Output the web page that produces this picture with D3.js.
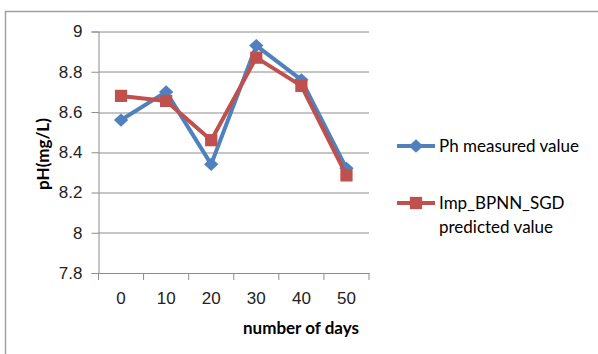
<!DOCTYPE html>
<html>
<head>
<meta charset="utf-8">
<script src="https://cdn.jsdelivr.net/npm/d3@7"></script>
<style>
  body { margin: 0; background: #fff; }
  svg { display: block; font-family: Lato, "Liberation Sans", sans-serif; }
</style>
</head>
<body>
<svg class="chart" width="598" height="354"></svg>
<script>
// values
const days = ["0", "10", "20", "30", "40", "50"]
const measured = [8.56, 8.70, 8.34, 8.93, 8.76, 8.32]
const predicted = [8.68, 8.655, 8.46, 8.87, 8.73, 8.285]
const yTicks = [7.8, 8, 8.2, 8.4, 8.6, 8.8, 9]
const seriesNames = ["Ph measured value", ["Imp_BPNN_SGD", "predicted value"]]

const margin = {top: 31.5, right: 229, bottom: 81, left: 98.5}
const width = 598 - margin.left - margin.right
const height = 354 - margin.top - margin.bottom

const blue = "#4f81bd"
const red = "#c0504d"
const grid = "#8c8c8c"
const fs = 17

let svg = d3.select('.chart')

// outer chart border (cut off right and bottom, like the screenshot)
svg.append("path")
    .attr("d", "M5.5,354 V11.5 H598")
    .attr("fill", "none")
    .attr("stroke", "#a0a0a0")
    .attr("stroke-width", 1.5)

let chart = svg.append("g")
    .attr("transform", `translate(${margin.left},${margin.top})`)

let x = d3.scaleBand()
    .domain(days)
    .range([0, width])

let y = d3.scaleLinear()
    .domain([7.8, 9])
    .range([height, 0])

// horizontal gridlines
chart.selectAll(".grid")
    .data(yTicks.slice(1))
    .enter().append("line")
    .attr("class", "grid")
    .attr("x1", 0)
    .attr("x2", width)
    .attr("y1", d => Math.round(y(d)) + 0.5)
    .attr("y2", d => Math.round(y(d)) + 0.5)
    .attr("stroke", grid)
    .attr("stroke-width", 1)

let yAxis = chart.append("g")
    .attr("class", "y axis")
    .call(d3.axisLeft(y).tickValues(yTicks).tickFormat(d3.format("")).tickSize(7).tickPadding(9))
yAxis.select(".domain").attr("stroke", grid)
yAxis.selectAll(".tick line").attr("stroke", grid)
yAxis.selectAll("text").attr("font-size", fs).attr("fill", "#222")

let xAxis = chart.append("g")
    .attr("class", "x axis")
    .attr("transform", `translate(0,${height})`)
    .call(d3.axisBottom(x).tickSize(0).tickPadding(19))
xAxis.select(".domain").attr("stroke", grid)
xAxis.selectAll("text").attr("font-size", fs).attr("fill", "#222")
// tick marks between categories
xAxis.selectAll(".sep")
    .data(d3.range(days.length + 1))
    .enter().append("line")
    .attr("class", "sep")
    .attr("x1", i => i * x.step())
    .attr("x2", i => i * x.step())
    .attr("y1", 0)
    .attr("y2", 7)
    .attr("stroke", grid)

// axis titles
svg.append("text")
    .attr("transform", "translate(49,154) rotate(-90)")
    .attr("text-anchor", "middle")
    .attr("font-size", fs)
    .attr("font-weight", "bold")
    .text("pH(mg/L)")

svg.append("text")
    .attr("x", 301)
    .attr("y", 334)
    .attr("text-anchor", "middle")
    .attr("font-size", fs)
    .attr("font-weight", "bold")
    .text("number of days")

let line = d3.line()
    .x((d, i) => x(days[i]) + x.bandwidth() / 2)
    .y(d => y(d))

// excel style markers: diamond is a rotated square
let diamond = d3.symbol().type(d3.symbolSquare).size(88)
let square = d3.symbol().type(d3.symbolSquare).size(150)
const diamondTf = "rotate(45)"

chart.append("path")
    .datum(measured)
    .attr("d", line)
    .attr("fill", "none")
    .attr("stroke", blue)
    .attr("stroke-width", 4)
    .attr("stroke-linejoin", "round")

chart.selectAll(".pt-m")
    .data(measured)
    .enter().append("path")
    .attr("class", "pt-m")
    .attr("d", diamond)
    .attr("transform", (d, i) => `translate(${x(days[i]) + x.bandwidth() / 2},${y(d)}) scale(1.08,1) ${diamondTf}`)
    .attr("fill", blue)

chart.append("path")
    .datum(predicted)
    .attr("d", line)
    .attr("fill", "none")
    .attr("stroke", red)
    .attr("stroke-width", 4)
    .attr("stroke-linejoin", "round")

chart.selectAll(".pt-p")
    .data(predicted)
    .enter().append("path")
    .attr("class", "pt-p")
    .attr("d", square)
    .attr("transform", (d, i) => `translate(${x(days[i]) + x.bandwidth() / 2},${y(d)})`)
    .attr("fill", red)

// legend
let legend = svg.append("g")
legend.append("line")
    .attr("x1", 397).attr("x2", 435).attr("y1", 146).attr("y2", 146)
    .attr("stroke", blue).attr("stroke-width", 4)
legend.append("path")
    .attr("d", diamond)
    .attr("transform", `translate(416,146) scale(1.08,1) ${diamondTf}`)
    .attr("fill", blue)
legend.append("text")
    .attr("x", 439).attr("y", 152)
    .attr("font-size", fs)
    .text(seriesNames[0])

legend.append("line")
    .attr("x1", 397).attr("x2", 435).attr("y1", 203).attr("y2", 203)
    .attr("stroke", red).attr("stroke-width", 4)
legend.append("path")
    .attr("d", square)
    .attr("transform", "translate(416,203)")
    .attr("fill", red)
legend.append("text")
    .attr("x", 439).attr("y", 209)
    .attr("font-size", fs)
    .selectAll("tspan")
    .data(seriesNames[1])
    .enter().append("tspan")
    .attr("x", 439)
    .attr("dy", (d, i) => i ? 23.5 : 0)
    .text(d => d)
</script>
</body>
</html>
